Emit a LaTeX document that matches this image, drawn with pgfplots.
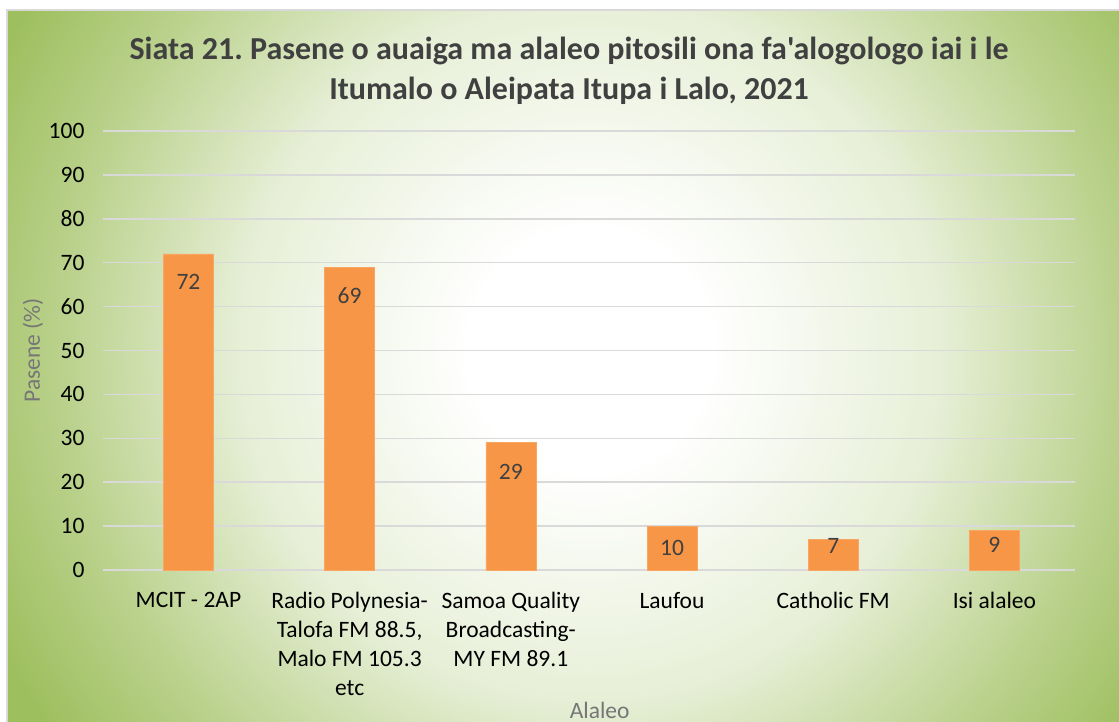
\documentclass[border=0pt]{standalone}
\usepackage{fontspec}
\setmainfont{Carlito}[Ligatures=TeXOff]
\usepackage{pgfplots}
\pgfplotsset{compat=1.18}
\definecolor{barc}{RGB}{247,150,70}
\definecolor{grn}{RGB}{158,191,94}
\definecolor{ttl}{RGB}{64,64,64}
\definecolor{grd}{RGB}{217,217,217}
\definecolor{lbl}{RGB}{118,118,118}
\colorlet{g25}{grn!25!white}
\colorlet{g70}{grn!72!white}
\pgfdeclareradialshading{bg}{\pgfpoint{0bp}{0bp}}{color(0bp)=(white); color(120bp)=(white); color(350bp)=(g25); color(530bp)=(g70); color(660bp)=(grn); color(700bp)=(grn)}
\begin{document}
\frenchspacing
\begin{tikzpicture}[x=1bp,y=1bp]
\path[use as bounding box] (0,0) rectangle (1119,722);
\begin{scope}
\clip (7,0) rectangle (1119,712);
\node[inner sep=0pt, outer sep=0pt] at (590,372) {\pgfuseshading{bg}};
\end{scope}
\draw[grd, line width=1.5bp] (7,0) -- (7,712) -- (1119,712);
\node[align=center, text=ttl, font=\fontsize{32bp}{40bp}\selectfont\bfseries] at (569,651) {Siata 21. Pasene o auaiga ma alaleo pitosili ona fa'alogologo iai i le\\Itumalo o Aleipata Itupa i Lalo, 2021};
\begin{axis}[
  at={(103bp,152bp)}, anchor=south west,
  scale only axis, width=972bp, height=439bp,
  xmin=-0.53, xmax=5.5, ymin=0, ymax=100,
  ytick={0,10,...,100},
  xtick={0,1,2,3,4,5},
  xticklabels={{MCIT - 2AP}, {Radio Polynesia-\\Talofa FM 88.5,\\Malo FM 105.3\\etc}, {Samoa Quality\\Broadcasting-\\MY FM 89.1}, {Laufou}, {Catholic FM}, {Isi alaleo}},
  xticklabel style={align=center, font=\fontsize{23.5bp}{29bp}\selectfont, text=black, yshift=-19bp},
  yticklabel style={font=\fontsize{23.5bp}{26bp}\selectfont, text=black, xshift=-15bp},
  /pgf/number format/assume math mode=true,
  axis line style={draw=none},
  major tick length=0pt,
  ymajorgrids, grid style={grd, line width=1.5bp},
  ylabel={Pasene (\%)}, xlabel={Alaleo},
  ylabel style={font=\fontsize{23.5bp}{26bp}\selectfont, text=lbl, at={(axis description cs:-0.072,0.5)}, anchor=center},
  xlabel style={font=\fontsize{23.5bp}{26bp}\selectfont, text=lbl, at={(axis description cs:0.511,0)}, yshift=-140bp, anchor=center},
  clip=false,
]
\addplot[ybar, bar width=50bp, fill=barc, draw=barc!85!white,
  visualization depends on={\thisrow{s} \as \sh},
  nodes near coords, every node near coord/.append style={anchor=north, yshift=\sh bp, text=ttl, font=\fontsize{23.5bp}{26bp}\selectfont}]
  table[x=x, y=y] {
x y s
0 72 -17
1 69 -17
2 29 -18
3 10 -11
4 7 4
5 9 -3
};
\end{axis}
\end{tikzpicture}
\end{document}
